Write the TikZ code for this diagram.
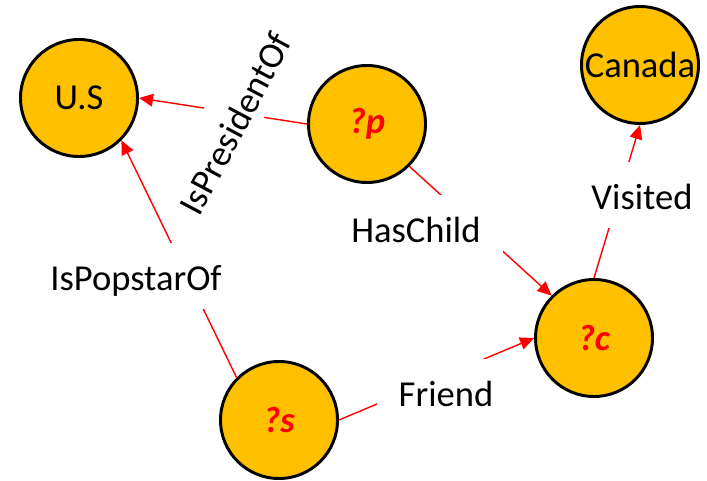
\documentclass[tikz,border=0pt]{standalone}
\usepackage{fontspec}
\setmainfont{Carlito}
\usetikzlibrary{positioning,arrows.meta}

\definecolor{ballfill}{HTML}{FFC000}

\tikzset{
  entity/.style={circle, draw=black, line width=2.1pt, fill=ballfill,
    minimum size=2.925cm, inner sep=0pt, font=\fontsize{26}{31}\selectfont},
  var/.style={entity, text=red, font=\fontsize{26}{31}\selectfont\bfseries\itshape},
  rel/.style={fill=white, inner xsep=15.6pt, inner ysep=0pt,
    text height=33.5pt, text depth=12.8pt, font=\fontsize{26}{31}\selectfont},
  link/.style={draw=red, line width=1pt, -{Triangle[length=10pt,width=9pt]}},
}

\begin{document}
\begin{tikzpicture}[on grid]

  \useasboundingbox (0,0) rectangle (17.675,12);

  % Define nodes

  % entities
  \node[entity] (us) at (1.975,9.55) {U.S}; %
  \node[var, below right=0.65cm and 7.2cm of us] (p) {?p}; %
  \node[entity, above right=1.475cm and 6.825cm of p] (canada) {Canada}; %

  % variables
  \node[var, below left=6.825cm and 1.15cm of canada] (c) {?c}; %
  \node[var, below left=2.05cm and 7.875cm of c] (s) {?s}; %

  % Edges
  \draw[link] (p.west) -- (us.east); %
  \draw[link] (s.north west) -- (us.south east); %
  \draw[link] (p.south east) -- (c.north west); %
  \draw[link] (c.north) -- (canada.south); %
  \draw[link] (s.east) -- (c.west); %

  % Edge labels
  \node[rel, inner xsep=1pt, text depth=7pt, rotate=62,
    below right=0.57cm and 3.77cm of us] (president) {IsPresidentOf}; %
  \node[rel, below right=4.45cm and 1.425cm of us] (popstar) {IsPopstarOf}; %
  \node[rel, below right=2.6cm and 1.225cm of p] (haschild) {HasChild}; %
  \node[rel, above right=3.575cm and 1.2cm of c] (visited) {Visited}; %
  \node[rel, above right=0.7cm and 4.175cm of s] (friend) {Friend}; %

\end{tikzpicture}
\end{document}
